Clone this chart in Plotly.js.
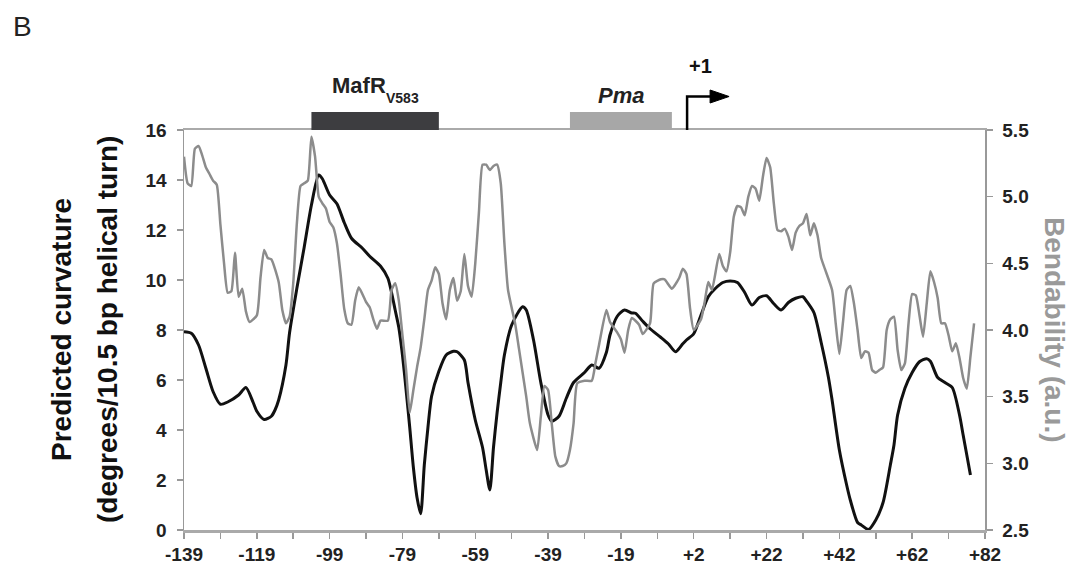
<!DOCTYPE html>
<html>
<head>
<meta charset="utf-8">
<script src="https://cdn.plot.ly/plotly-3.0.1.min.js"></script>
<style>html,body{margin:0;padding:0;background:#fff;}#chart{width:1087px;height:578px;}</style>
</head>
<body>
<div id="chart"></div>
<script>
// ---- data ----
const curvaturePos = [-139,-137,-135,-133,-131,-129,-127,-124,-122,-120,-119,-117,-115,-114,-113,-111,-110,-108,-106,-104,-102,-101,-99,-97,-95,-93,-90,-88,-85,-83,-82,-81,-80,-79,-78,-77,-76,-75,-74,-73,-72,-71,-69,-67,-65,-64,-62,-61,-59,-57,-56,-55,-54,-53,-52,-51,-49,-46,-45,-43,-41,-39,-38,-36,-34,-32,-29,-27,-25,-23,-22,-20,-18,-16,-15,-13,-11,-8,-6,-4,-2,-1,2,4,6,8,10,12,14,16,18,20,22,24,26,28,30,32,33,35,37,39,40,42,44,45,47,48,50,52,54,56,57,58,60,62,64,66,67,69,71,73,75,76,77,78];
const curvature = [7.93,7.87,7.4,6.47,5.53,5.03,5.12,5.4,5.7,5.1,4.75,4.42,4.55,4.8,5.2,6.6,7.9,9.67,11.3,13.0,14.2,14.05,13.4,13.05,12.3,11.67,11.27,10.95,10.55,10.07,9.5,8.8,8.1,7.0,5.6,4.1,2.5,1.3,0.65,2.6,4.1,5.35,6.35,7.0,7.15,7.13,6.8,5.9,4.4,3.3,2.4,1.6,3.3,4.7,5.9,7.0,8.2,8.93,8.8,7.6,5.9,4.6,4.35,4.55,5.27,5.9,6.3,6.6,6.47,7.1,7.8,8.55,8.8,8.68,8.67,8.35,8.05,7.7,7.45,7.13,7.45,7.6,7.85,8.6,9.33,9.67,9.9,9.96,9.9,9.5,9.0,9.3,9.37,9.05,8.8,9.1,9.27,9.33,9.15,8.7,7.5,6.1,5.2,3.2,1.8,1.2,0.3,0.2,0.02,0.4,1.1,2.6,3.4,4.6,5.67,6.3,6.73,6.85,6.75,6.1,5.9,5.7,4.6,3.8,3.0,2.2];

const bendPos = [-139,-138,-137,-136,-135,-134,-133,-132,-131,-130,-129,-128,-127,-126,-125,-124,-123,-122,-121,-119,-118,-117,-116,-115,-113,-112,-111,-110,-109,-108,-107,-106,-105,-104,-103,-102,-101,-100,-99,-98,-97,-96,-95,-94,-93,-92,-91,-89,-88,-87,-86,-85,-83,-82,-81,-80,-79,-78,-77,-76,-75,-74,-73,-72,-71,-70,-69,-68,-67,-66,-65,-64,-63,-62,-61,-60,-59,-58,-57,-56,-55,-54,-53,-52,-51,-50,-48,-47,-45,-44,-42,-41,-40,-39,-38,-37,-36,-35,-34,-33,-32,-31,-29,-27,-26,-25,-23,-22,-20,-19,-18,-17,-16,-14,-13,-11,-10,-8,-7,-5,-3,-2,-1,1,2,4,5,6,7,9,10,11,12,13,14,15,16,17,18,19,20,21,22,23,24,25,26,27,28,29,30,31,32,33,34,35,36,37,38,40,41,42,43,44,45,46,47,48,49,50,51,52,53,54,55,56,57,58,59,60,61,62,63,64,65,66,67,68,69,70,71,72,73,74,75,76,77,78,79];
const bendability = [5.3,5.1,5.08,5.36,5.38,5.31,5.22,5.17,5.12,5.09,4.79,4.5,4.28,4.29,4.58,4.25,4.31,4.14,4.06,4.11,4.39,4.6,4.54,4.53,4.36,4.15,4.05,4.1,4.35,4.8,5.08,5.1,5.12,5.45,5.3,5.0,4.95,4.91,4.81,4.77,4.65,4.42,4.16,4.05,4.04,4.22,4.32,4.21,4.17,4.08,4.01,4.07,4.07,4.3,4.35,4.22,3.96,3.7,3.38,3.55,3.72,3.87,4.08,4.3,4.37,4.47,4.42,4.2,4.08,4.3,4.39,4.22,4.29,4.57,4.33,4.25,4.5,4.88,5.24,5.24,5.2,5.23,5.24,5.1,4.65,4.3,4.04,3.86,3.5,3.3,3.1,3.35,3.58,3.55,3.3,3.05,2.98,2.98,3.0,3.1,3.3,3.6,3.62,3.62,3.75,3.89,4.15,4.06,3.98,3.93,3.83,4.0,4.09,4.04,3.97,4.05,4.35,4.38,4.38,4.31,4.39,4.46,4.42,4.16,4.0,4.08,4.21,4.36,4.3,4.57,4.48,4.44,4.58,4.85,4.93,4.92,4.86,5.0,5.08,5.06,4.97,5.15,5.29,5.22,4.95,4.75,4.74,4.76,4.7,4.6,4.73,4.78,4.8,4.87,4.71,4.8,4.71,4.54,4.46,4.3,4.05,3.82,4.06,4.3,4.33,4.2,4.0,3.79,3.84,3.83,3.7,3.68,3.7,3.72,4.0,4.08,4.1,3.85,3.7,3.75,4.05,4.27,4.26,4.11,3.95,4.2,4.44,4.36,4.24,4.05,4.05,3.96,3.84,3.9,3.79,3.64,3.56,3.8,4.05];

const xTickLabels = ['-139','-119','-99','-79','-59','-39','-19','+2','+22','+42','+62','+82'];
const regionNames = ['MafR', 'Pma'];
const regionSubs = ['V583', ''];
const regionStart = [-104, -33];
const regionEnd = [-69, -5];
const tssPos = 1;
const tssLabel = '+1';

// ---- helpers ----
// sequence positions skip 0, so map them onto a continuous axis index
function toIdx(p){ return p < 0 ? p + 139 : p + 138; }

const tickVals = xTickLabels.map(lab => toIdx(parseInt(lab, 10)));
const minorVals = tickVals.slice(0, -1).map(v => v + 10);

const FONT = 'Liberation Sans, Arial, sans-serif';

const traces = [
  {x: bendPos.map(toIdx), y: bendability, yaxis: 'y2', type: 'scatter', mode: 'lines',
   line: {color: '#8c8c8c', width: 2.5, shape: 'spline', smoothing: 0.5}, hoverinfo: 'skip'},
  {x: curvaturePos.map(toIdx), y: curvature, yaxis: 'y', type: 'scatter', mode: 'lines',
   line: {color: '#111111', width: 3, shape: 'spline', smoothing: 0.7}, hoverinfo: 'skip'}
];

const barColors = ['#3d3d40', '#a7a7a7'];
const shapes = [];
const annotations = [];
regionNames.forEach((name, k) => {
  const mid = (toIdx(regionStart[k]) + toIdx(regionEnd[k])) / 2;
  shapes.push({type: 'rect', xref: 'x', yref: 'paper', x0: toIdx(regionStart[k]), x1: toIdx(regionEnd[k]),
    y0: 1.0, y1: 1.045, fillcolor: barColors[k], line: {width: 0}, layer: 'above'});
  if (regionSubs[k]) {
    annotations.push({xref: 'x', yref: 'paper', x: mid, xshift: 13, y: 1.11, text: name, showarrow: false,
      font: {family: FONT, size: 22, color: '#222', weight: 'bold'}, xanchor: 'right', yanchor: 'middle'});
    annotations.push({xref: 'x', yref: 'paper', x: mid, xshift: 9, y: 1.08, text: regionSubs[k], showarrow: false,
      font: {family: FONT, size: 14, color: '#222', weight: 'bold'}, xanchor: 'left', yanchor: 'middle'});
  } else {
    annotations.push({xref: 'x', yref: 'paper', x: mid, y: 1.087, text: name, showarrow: false,
      font: {family: FONT, size: 22, color: '#222', weight: 'bold', style: 'italic'}, xanchor: 'center', yanchor: 'middle'});
  }
});
// TSS bent arrow
shapes.push({type: 'path', xref: 'x', yref: 'paper', xsizemode: 'pixel', ysizemode: 'pixel',
  xanchor: toIdx(tssPos), yanchor: 1.0, path: 'M-3,0 L-3,33.5 L24,33.5',
  line: {color: '#000', width: 2.5}, layer: 'above'});
shapes.push({type: 'path', xref: 'x', yref: 'paper', xsizemode: 'pixel', ysizemode: 'pixel',
  xanchor: toIdx(tssPos), yanchor: 1.0, path: 'M20,40 L39,33.5 L20,27 Z',
  fillcolor: '#000', line: {color: '#000', width: 1}, layer: 'above'});
annotations.push({xref: 'x', yref: 'paper', x: toIdx(tssPos), xshift: 10, y: 1.16,
  text: tssLabel, showarrow: false, font: {family: FONT, size: 20, color: '#111', weight: 'bold'},
  xanchor: 'center', yanchor: 'middle'});
// panel letter
annotations.push({xref: 'paper', yref: 'paper', x: 0, xshift: -173, y: 1, yshift: 104,
  text: 'B', showarrow: false, font: {family: FONT, size: 28, color: '#222'}, xanchor: 'left', yanchor: 'middle'});
// left axis titles (two lines)
annotations.push({xref: 'paper', yref: 'paper', x: 0, xshift: -123, y: 0.5, textangle: -90,
  text: 'Predicted curvature', showarrow: false, font: {family: FONT, size: 28, color: '#111', weight: 'bold'},
  xanchor: 'center', yanchor: 'middle'});
annotations.push({xref: 'paper', yref: 'paper', x: 0, xshift: -77, y: 0.5, textangle: -90,
  text: '(degrees/10.5 bp helical turn)', showarrow: false, font: {family: FONT, size: 28, color: '#111', weight: 'bold'},
  xanchor: 'center', yanchor: 'middle'});
// right axis title
annotations.push({xref: 'paper', yref: 'paper', x: 1, xshift: 70, y: 0.5, textangle: 90,
  text: 'Bendability (a.u.)', showarrow: false, font: {family: FONT, size: 28, color: '#9a9a9a', weight: 'bold'},
  xanchor: 'center', yanchor: 'middle'});

const tickFont = {family: FONT, size: 19, color: '#222', weight: 'bold'};
const layout = {
  width: 1087, height: 578,
  margin: {l: 184, r: 102, t: 130, b: 48, pad: 0},
  paper_bgcolor: '#fff', plot_bgcolor: '#fff',
  showlegend: false,
  xaxis: {range: [0, 220], tickmode: 'array', tickvals: tickVals, ticktext: xTickLabels,
    ticks: 'outside', ticklen: 6, tickwidth: 1.5, tickcolor: '#999', showgrid: false, zeroline: false,
    minor: {tickmode: 'array', tickvals: minorVals, ticks: 'outside', ticklen: 6, tickwidth: 1.5, tickcolor: '#999', showgrid: false},
    showline: true, linecolor: '#aaa', linewidth: 2.5, mirror: true, tickfont: tickFont, fixedrange: true},
  yaxis: {range: [0, 16], dtick: 2, tick0: 0, ticks: 'outside', ticklen: 6, tickwidth: 1.5, tickcolor: '#999',
    showgrid: false, zeroline: false, showline: true, linecolor: '#999', linewidth: 1.5, tickfont: tickFont,
    ticklabelstandoff: 6},
  yaxis2: {range: [2.5, 5.5], dtick: 0.5, tick0: 2.5, tickformat: '.1f', overlaying: 'y', side: 'right',
    ticks: 'outside', ticklen: 6, tickwidth: 1.5, tickcolor: '#999', showgrid: false, zeroline: false,
    showline: true, linecolor: '#999', linewidth: 1.5, tickfont: tickFont, ticklabelstandoff: 6},
  shapes: shapes,
  annotations: annotations
};

Plotly.newPlot('chart', traces, layout, {staticPlot: true, displayModeBar: false});
</script>
</body>
</html>
